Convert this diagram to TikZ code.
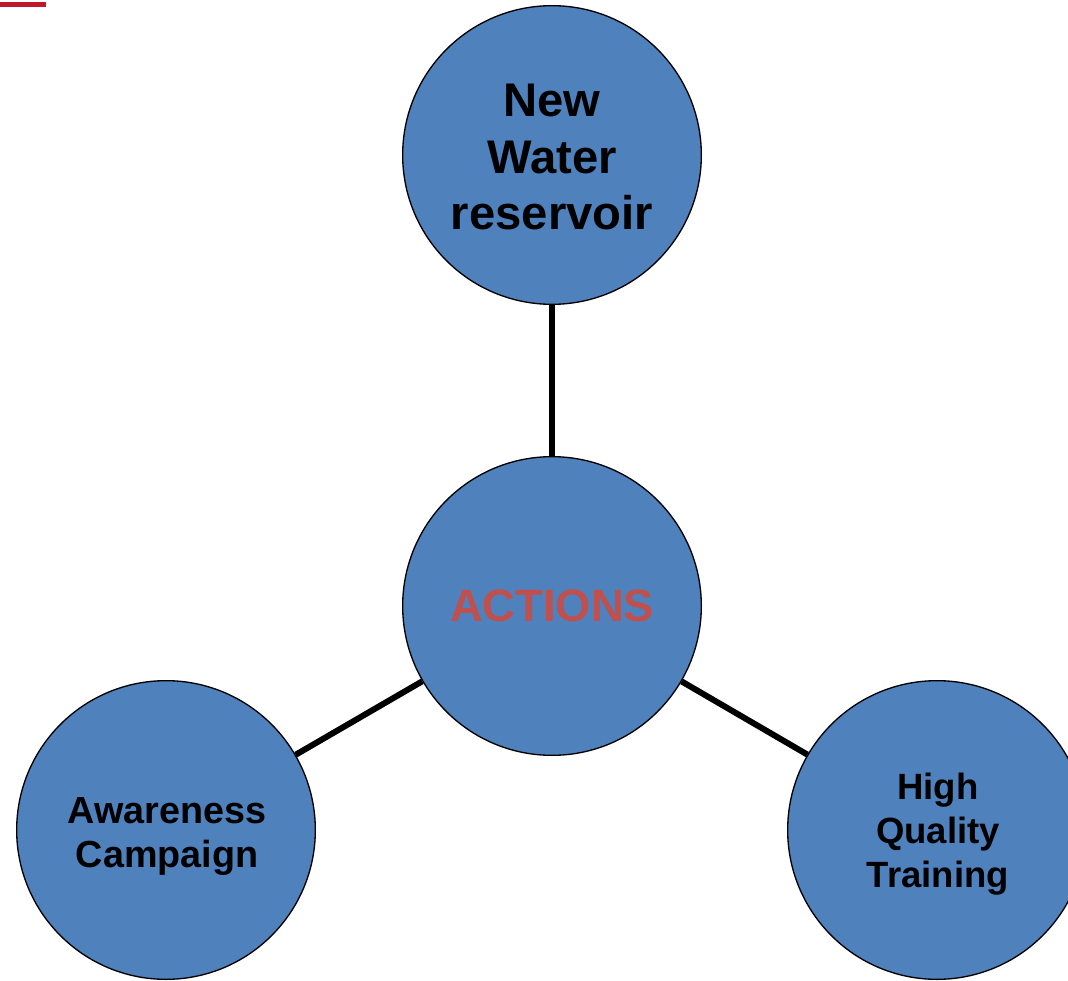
\documentclass[tikz,border=0pt]{standalone}
\usepackage{fontspec}
\setmainfont{Liberation Sans}
\definecolor{circblue}{RGB}{79,129,189}
\definecolor{actred}{RGB}{192,80,77}
\definecolor{barred}{RGB}{192,24,42}
\begin{document}
\begin{tikzpicture}[x=0.75pt,y=-0.75pt,
  bubble/.style={circle, draw=black, line width=1pt, fill=circblue, minimum size=224pt, inner sep=0pt},
  txt/.style={align=center, inner sep=0pt},
  link/.style={line width=4.5pt, draw=black}]
\useasboundingbox (0,0) rectangle (1068,981);
\begin{scope}
\clip (0,0) rectangle (1068,981);
\draw[barred, line width=3.75pt] (0,4.5) -- (46,4.5);
\node[bubble] (top) at (552,155) {};
\node[bubble] (act) at (552,606) {};
\node[bubble] (left) at (166,830) {};
\node[bubble] (right) at (937,830) {};
\draw[link] (act) -- (top);
\draw[link] (act) -- (left);
\draw[link] (act) -- (right);
\node[txt, font=\bfseries\fontsize{35.4}{42.5}\selectfont] (toptxt) at (552,157) {New\\Water\\reservoir};
\node[txt, text=actred, font=\bfseries\fontsize{34}{40}\selectfont] (acttxt) at (552,606) {ACTIONS};
\node[txt, font=\bfseries\fontsize{28.3}{33}\selectfont] (lefttxt) at (167,837) {Awareness\\Campaign};
\node[txt, font=\bfseries\fontsize{27.4}{33}\selectfont] (righttxt) at (938,834) {High\\Quality\\Training};
\end{scope}
\end{tikzpicture}
\end{document}
